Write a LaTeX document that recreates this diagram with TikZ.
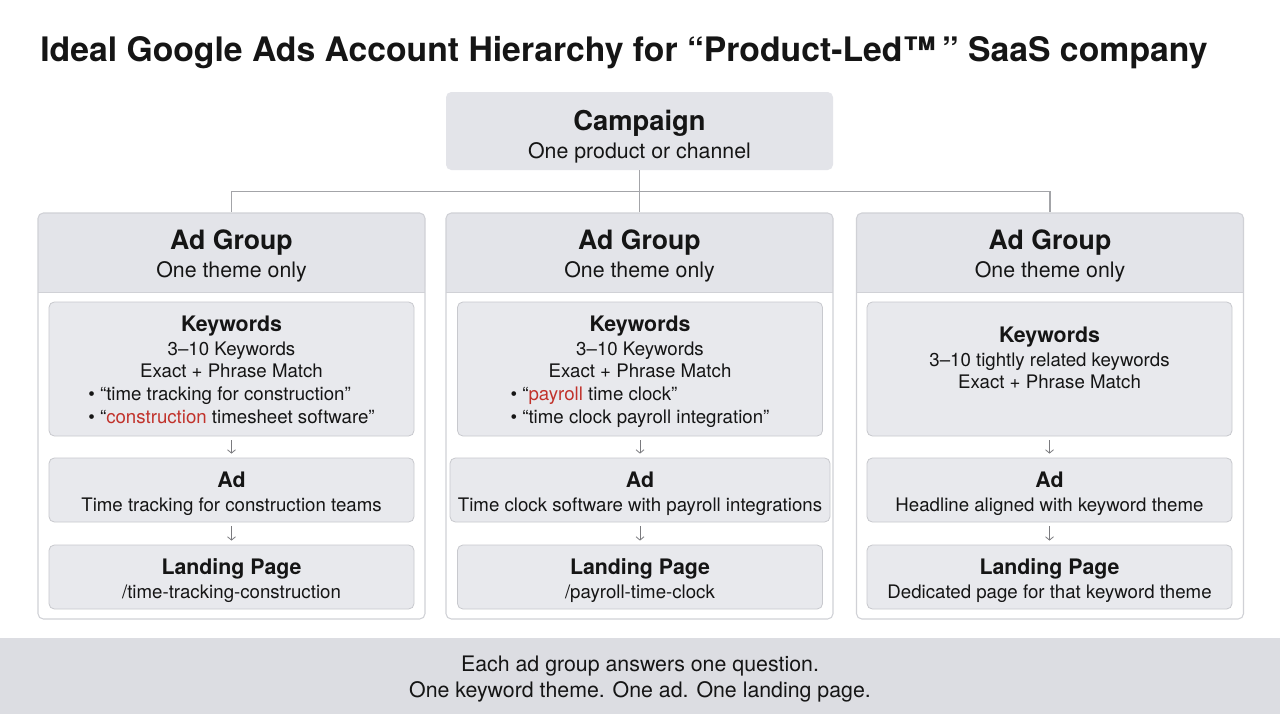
\documentclass[tikz,border=0pt]{standalone}
\usepackage{fontspec}
\setmainfont{TeX Gyre Heros}
\usepackage{xcolor}
\usepackage{tikz}
\usetikzlibrary{arrows.meta}

\definecolor{ink}{HTML}{151515}
\definecolor{hdrgray}{HTML}{E3E4E9}
\definecolor{cellgray}{HTML}{E8E9ED}
\definecolor{cellline}{HTML}{C8C9CE}
\definecolor{frameline}{HTML}{D0D1D6}
\definecolor{footgray}{HTML}{DCDDE2}
\definecolor{treeline}{HTML}{A3A4A8}
\definecolor{arrowgray}{HTML}{7A7A7E}
\definecolor{hotred}{HTML}{C1322B}

% heading of a cell, with a strut that pushes the block down a little
\newcommand{\hd}[1]{{\bfseries\fontsize{16}{18}\selectfont\rule{0pt}{17.5pt}#1}}
\newcommand{\hot}[1]{\textcolor{hotred}{#1}}

\tikzset{
  header/.style={fill=hdrgray, rounded corners=4pt, minimum width=290.25pt, minimum height=59.25pt,
    align=center, inner sep=0pt, font=\fontsize{16}{21}\selectfont},
  frame/.style={draw=frameline, line width=0.8pt, rounded corners=4pt, minimum width=290.25pt,
    minimum height=304.5pt, inner sep=0pt},
  cell/.style={draw=cellline, fill=cellgray, line width=0.6pt, rounded corners=4pt, minimum width=273.75pt,
    align=center, inner sep=0pt, font=\fontsize{14}{17}\selectfont},
  tree/.style={draw=treeline, line width=0.9pt},
  flow/.style={draw=arrowgray, line width=0.6pt, -{Straight Barb[length=2.5pt,width=6pt]},
    shorten <=3pt, shorten >=3pt},
}

\begin{document}
\begin{tikzpicture}[x=0.75pt, y=-0.75pt, every node/.style={text=ink}]
  \fill[white] (0,0) rectangle (1280,714);
  \useasboundingbox (0,0) rectangle (1280,714);

  \node[anchor=base west, inner sep=0pt, font=\bfseries\fontsize{25.3}{30}\selectfont] (title) at (40,61)
    {Ideal Google Ads Account Hierarchy for “Product-Led™\,” SaaS company};

  % campaign
  \node[header, minimum height=58.5pt] (cmp) at (639.5,131)
    {{\bfseries\fontsize{20.5}{21}\selectfont\rule{0pt}{24pt}Campaign}\\One product or channel};

  % ad group headers
  \node[header] (hd1) at (231.5,252.5)
    {{\bfseries\fontsize{20}{21}\selectfont\rule{0pt}{20.5pt}Ad Group}\\One theme only};
  \node[header] (hd2) at (639.5,252.5)
    {{\bfseries\fontsize{20}{21}\selectfont\rule{0pt}{20.5pt}Ad Group}\\One theme only};
  \node[header] (hd3) at (1050,252.5)
    {{\bfseries\fontsize{20}{21}\selectfont\rule{0pt}{20.5pt}Ad Group}\\One theme only};
  \foreach \h in {hd1,hd2,hd3}{
    \fill[hdrgray] ([yshift=6pt]\h.south west) rectangle (\h.south east);
    \draw[frameline, line width=0.6pt] (\h.south west) -- (\h.south east);
  }

  % ad group frames
  \node[frame] (ag1) at (231.5,416) {};
  \node[frame] (ag2) at (639.5,416) {};
  \node[frame] (ag3) at (1050,416) {};

  \draw[tree] (cmp) -- (ag2);
  \draw[tree] (cmp.south) -- ++(0,21) -| (ag1.north);
  \draw[tree] (cmp.south) -- ++(0,21) -| (ag3.north);

  % first group
  \node[cell, minimum height=100.5pt] (kw1) at (231.5,369)
    {\hd{Keywords}\\[1pt] 3–10 Keywords\\ Exact + Phrase Match\\
     \begin{tabular}[t]{@{}l@{}}\textbullet\ “time tracking for construction”\\
       \textbullet\ “\hot{construction} timesheet software”\end{tabular}};
  \node[cell, minimum height=48pt] (ad1) at (231.5,490) {\hd{Ad}\\[1pt] Time tracking for construction teams};
  \node[cell, minimum height=48pt] (lp1) at (231.5,577) {\hd{Landing Page}\\[1pt] /time-tracking-construction};

  % second group
  \node[cell, minimum height=100.5pt] (kw2) at (640,369)
    {\hd{Keywords}\\[1pt] 3–10 Keywords\\ Exact + Phrase Match\\
     \begin{tabular}[t]{@{}l@{}}\textbullet\ “\hot{payroll} time clock”\\
       \textbullet\ “time clock payroll integration”\end{tabular}};
  \node[cell, minimum height=48pt, minimum width=285pt] (ad2) at (640,490)
    {\hd{Ad}\\[1pt] Time clock software with payroll integrations};
  \node[cell, minimum height=48pt] (lp2) at (640,577) {\hd{Landing Page}\\[1pt] /payroll-time-clock};

  % third group
  \node[cell, minimum height=100.5pt] (kw3) at (1049.5,369)
    {\hd{Keywords}\\[1pt] 3–10 tightly related keywords\\ Exact + Phrase Match\\[6pt] ~};
  \node[cell, minimum height=48pt] (ad3) at (1049.5,490) {\hd{Ad}\\[1pt] Headline aligned with keyword theme};
  \node[cell, minimum height=48pt] (lp3) at (1049.5,577) {\hd{Landing Page}\\[1pt] Dedicated page for that keyword theme};

  \draw[flow] (kw1) -- (ad1);
  \draw[flow] (ad1) -- (lp1);
  \draw[flow] (kw2) -- (ad2);
  \draw[flow] (ad2) -- (lp2);
  \draw[flow] (kw3) -- (ad3);
  \draw[flow] (ad3) -- (lp3);

  % footer
  \node[fill=footgray, minimum width=960pt, minimum height=57pt, inner sep=0pt, align=center,
    font=\fontsize{16}{19.5}\selectfont] (foot) at (640,676)
    {\rule{0pt}{16pt}Each ad group answers one question.\\ One keyword theme. One ad. One landing page.};
\end{tikzpicture}
\end{document}
